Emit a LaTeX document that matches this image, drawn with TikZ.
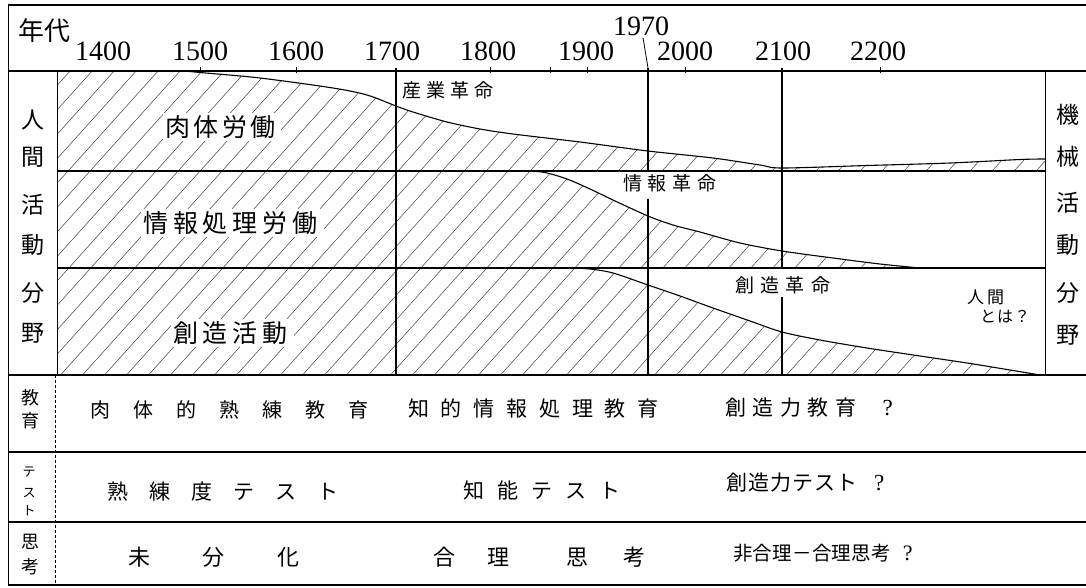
\documentclass[tikz,border=0pt]{standalone}
\usepackage{fontspec}
\newfontfamily\jp{Noto Sans CJK JP}
\newfontfamily\serif{Liberation Serif}
\ExplSyntaxOn
\NewDocumentCommand\pitch{mm}{\tl_map_inline:nn{#2}{\makebox[#1][l]{##1}}}
\ExplSyntaxOff
\newcommand\hatchlines{\foreach \k in {0,...,68}{\draw[hatch] ({-380+22*\k},400) -- ++(360,-400);}}
\begin{document}
\begin{tikzpicture}[x=1pt,y=-1pt,
  frame/.style={line width=1.2pt},
  thinframe/.style={line width=0.8pt},
  curve/.style={line width=1.1pt},
  hatch/.style={line width=0.5pt, black!75},
  tickmark/.style={line width=0.9pt},
  yearlab/.style={font=\serif\fontsize{28}{28}\selectfont, inner sep=0pt},
  side/.style={font=\jp\fontsize{23}{23}\selectfont, inner sep=0pt},
  smallside/.style={font=\jp\fontsize{18}{18}\selectfont, inner sep=0pt},
  tinyside/.style={font=\jp\fontsize{13}{13}\selectfont, inner sep=0pt},
  region/.style={font=\jp\fontsize{25}{25}\selectfont, inner sep=2pt, fill=white, anchor=west},
  rev/.style={font=\jp\fontsize{19}{19}\selectfont, inner xsep=0pt, inner ysep=3pt, anchor=west},
  rowtxt/.style={font=\jp\fontsize{21}{21}\selectfont, inner sep=0pt, anchor=west},
  note/.style={font=\jp\fontsize{16}{16}\selectfont, inner sep=0pt, anchor=west}
]
\useasboundingbox (0,0) rectangle (1086,587);

% hatched regions
\begin{scope}
\clip (57,71) -- plot[smooth,tension=0.5] coordinates {(185,71) (200,72.5) (260,78) (333,88) (367,95) (396,106) (413,112) (447,122) (480,129) (513,134) (580,142) (648,151) (713,158) (760,165) (782,168) (867,165.5) (950,163) (1020,159.5) (1045,159)} -- (1045,171) -- (57,171) -- cycle;
\hatchlines
\end{scope}
\begin{scope}
\clip (57,171) -- plot[smooth,tension=0.5] coordinates {(528,171) (545,172.5) (567,179) (590,189) (613,200) (648,216) (673,225) (700,232) (740,243) (782,251) (833,258) (880,264) (920,268)} -- (57,268) -- cycle;
\hatchlines
\end{scope}
\begin{scope}
\clip (57,268) -- plot[smooth,tension=0.5] coordinates {(570,268) (590,269) (613,273) (648,285) (680,296) (713,308) (750,321) (782,332) (820,340) (867,348) (920,356) (967,363) (1010,370) (1040,375)} -- (57,375) -- cycle;
\hatchlines
\end{scope}

% curves
\draw[curve] plot[smooth,tension=0.5] coordinates {(185,71) (200,72.5) (260,78) (333,88) (367,95) (396,106) (413,112) (447,122) (480,129) (513,134) (580,142) (648,151) (713,158) (760,165) (782,168) (867,165.5) (950,163) (1020,159.5) (1045,159)};
\draw[curve] plot[smooth,tension=0.5] coordinates {(528,171) (545,172.5) (567,179) (590,189) (613,200) (648,216) (673,225) (700,232) (740,243) (782,251) (833,258) (880,264) (920,268)};
\draw[curve] plot[smooth,tension=0.5] coordinates {(570,268) (590,269) (613,273) (648,285) (680,296) (713,308) (750,321) (782,332) (820,340) (867,348) (920,356) (967,363) (1010,370) (1040,375)};

% frame lines
\draw[frame] (8,5) -- (1086,5);
\draw[frame] (8,71) -- (1086,71);
\draw[frame] (57,171) -- (1045,171);
\draw[frame] (57,268) -- (1045,268);
\draw[frame] (8,375) -- (1086,375);
\draw[frame] (8,452) -- (1086,452);
\draw[frame] (8,522) -- (1086,522);
\draw[frame] (8,585) -- (1086,585);
\draw[thinframe] (8,5) -- (8,585);
\draw[thinframe] (57,71) -- (57,375);
\draw[thinframe, densely dashed] (55,375) -- (55,585);
\draw[thinframe] (1045,71) -- (1045,375);

% axis ticks
\foreach \x in {200,296,490,550,587,685,880} \draw[tickmark] (\x,67) -- (\x,72.5);

% revolution labels
\node[rev] (sangyo) at (402,90) {\pitch{24pt}{産業革命}};
\node[rev, inner ysep=7pt] (joho) at (623,183) {\pitch{24.7pt}{情報革命}};
\node[rev] (sozo) at (735,285) {\pitch{25.3pt}{創造革命}};

% vertical era lines
\coordinate (t1700) at (396,68);
\coordinate (b1700) at (396,375);
\coordinate (t1970) at (648,68);
\coordinate (m1970) at (648,171);
\coordinate (b1970) at (648,375);
\coordinate (t2100) at (782,68);
\coordinate (m2100) at (782,268);
\coordinate (b2100) at (782,375);
\draw[frame] (t1700) -- (b1700);
\draw[frame] (t1970) -- (m1970);
\draw[frame] (t1970 |- joho.south) -- (b1970);
\draw[frame] (t2100) -- (m2100);
\draw[frame] (t2100 |- sozo.south) -- (b2100);

% header
\node[font=\jp\fontsize{26}{26}\selectfont, inner sep=0pt] (nendai) at (44,31) {年代};
\foreach \yr/\x in {1400/103,1500/200,1600/296,1700/392,1800/488,1900/586,2000/685,2100/783,2200/878}
  \node[yearlab] (yr\yr) at (\x,51) {\yr};
\node[yearlab, inner sep=2pt] (yr1970) at (641,26) {1970};
\draw[thinframe] ([xshift=2pt]yr1970.south) -- (t1970);

% side labels
\foreach \c/\yy [count=\i] in {人/120,間/157,活/205,動/245,分/293,野/333}
  \node[side] (ls\i) at (33,\yy) {\c};
\foreach \c/\yy [count=\i] in {機/115,械/157,活/203,動/245,分/293,野/335}
  \node[side] (rs\i) at (1068,\yy) {\c};

% region labels
\node[region] (r1) at (163,127) {\pitch{28.5pt}{肉体労働}};
\node[region] (r2) at (141,223) {\pitch{29.8pt}{情報処理労働}};
\node[region] (r3) at (171,333) {\pitch{29.7pt}{創造活動}};

\node[note, font=\jp\fontsize{17}{17}\selectfont] (ningen) at (967,297) {\pitch{20pt}{人間}};
\node[note] (towa) at (980,317) {\pitch{17pt}{とは？}};

% lower table labels
\node[smallside] (kyo1) at (30,398) {教};
\node[smallside] (kyo2) at (30,421) {育};
\node[tinyside] (te1) at (29,472) {テ};
\node[tinyside] (te2) at (29,493) {ス};
\node[tinyside] (te3) at (29,511) {ト};
\node[smallside] (shi1) at (30,542) {思};
\node[smallside] (shi2) at (30,567) {考};

% lower table texts
\node[rowtxt, font=\jp\fontsize{20}{20}\selectfont] (a1) at (90,410) {\pitch{43pt}{肉体的熟練教育}};
\node[rowtxt] (a2) at (408,409) {\pitch{32.8pt}{知的情報処理教育}};
\node[rowtxt] (a3) at (725,408) {\pitch{27.5pt}{創造力教育}\hspace{20pt}{\serif\fontsize{23}{23}\selectfont ?}};
\node[rowtxt] (b1) at (107,492) {\pitch{42pt}{熟練度テスト}};
\node[rowtxt] (b2) at (463,490) {\pitch{34pt}{知能テスト}};
\node[rowtxt] (b3) at (726,483) {\pitch{22pt}{創造力テスト}\hspace{16pt}{\serif\fontsize{23}{23}\selectfont ?}};
\node[rowtxt, font=\jp\fontsize{22}{22}\selectfont] (c1) at (128,557) {\pitch{74.5pt}{未分化}};
\node[rowtxt, font=\jp\fontsize{22}{22}\selectfont] (c2) at (433,557) {\makebox[54pt][l]{合}\makebox[79pt][l]{理}\makebox[57pt][l]{思}考};
\node[rowtxt, font=\jp\fontsize{19.5}{19.5}\selectfont] (c3) at (733,553) {\pitch{19.7pt}{非合理－合理思考}\hspace{12pt}{\serif\fontsize{22}{22}\selectfont ?}};
\end{tikzpicture}
\end{document}
